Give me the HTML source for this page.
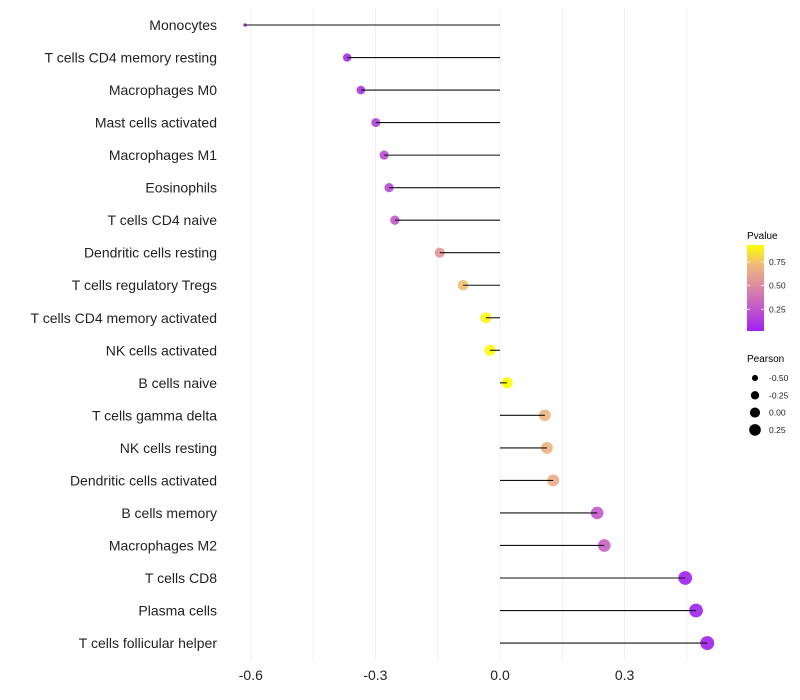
<!DOCTYPE html>
<html><head><meta charset="utf-8"><style>
body{margin:0;background:#fff;font-family:"Liberation Sans",sans-serif}
</style></head><body>
<svg id="chart" width="800" height="700" xmlns="http://www.w3.org/2000/svg" style="display:block">
<defs>
<linearGradient id="pgrad" x1="0" y1="1" x2="0" y2="0">
<stop offset="0" stop-color="#A020F0"/>
<stop offset="0.27" stop-color="#C25ACB"/>
<stop offset="0.52" stop-color="#DC8AA2"/>
<stop offset="0.77" stop-color="#EFB97B"/>
<stop offset="1" stop-color="#FFFF00"/>
</linearGradient>
</defs>
<g id="grid"></g><g id="marks"></g><g id="axes"></g>
<g id="legend">
<text x="747" y="239" font-size="10" fill="#000">Pvalue</text>
<rect x="747" y="245" width="17" height="86" fill="url(#pgrad)"/>
<g id="cbticks"></g>
<text x="747" y="362" font-size="10" fill="#000">Pearson</text>
<g id="sizeleg"></g>
</g>
</svg>
<script>
const categories=["Monocytes","T cells CD4 memory resting","Macrophages M0","Mast cells activated","Macrophages M1","Eosinophils","T cells CD4 naive","Dendritic cells resting","T cells regulatory  Tregs ","T cells CD4 memory activated","NK cells activated","B cells naive","T cells gamma delta","NK cells resting","Dendritic cells activated","B cells memory","Macrophages M2","T cells CD8","Plasma cells","T cells follicular helper"];
const pearson=[-0.614,-0.368,-0.335,-0.299,-0.279,-0.267,-0.253,-0.145,-0.089,-0.034,-0.024,0.017,0.108,0.113,0.128,0.234,0.251,0.446,0.472,0.499];
const pvalue=[0.02,0.06,0.1,0.15,0.2,0.2,0.25,0.55,0.74,0.9,0.92,0.93,0.7,0.69,0.66,0.26,0.3,0.02,0.03,0.02];
const xTicks=[-0.6,-0.3,0.0,0.3];
const xTickLabels=["-0.6","-0.3","0.0","0.3"];
const cbTicks=[0.25,0.5,0.75];
const sizeLegendValues=[-0.5,-0.25,0,0.25];
const NS="http://www.w3.org/2000/svg";
const X=v=>500+v*415.3;
const Y=i=>25+i*32.53;
const R=v=>Math.max(1.7,6.01*Math.sqrt(Math.max(0,v+0.856))-(v<-0.5?1.2:0));
const RL=v=>6.01*Math.sqrt(v+0.856)-0.5;
const CBY=p=>331-(p-0.02)/0.91*86;
const stops=[[0,[160,32,240]],[0.27,[194,90,203]],[0.52,[220,138,162]],[0.77,[239,185,123]],[1,[255,255,0]]];
function col(p){let t=(p-0.02)/0.91;t=Math.max(0,Math.min(1,t));for(let k=1;k<stops.length;k++){if(t<=stops[k][0]){const a=stops[k-1],b=stops[k],f=(t-a[0])/(b[0]-a[0]);const c=a[1].map((v,j)=>Math.round(v+(b[1][j]-v)*f));return`rgb(${c.join(',')})`;}}return"rgb(255,255,0)";}
function mk(tag,attrs,parent){const e=document.createElementNS(NS,tag);for(const k in attrs)e.setAttribute(k,attrs[k]);document.getElementById(parent).appendChild(e);return e;}
[-0.6,-0.45,-0.3,-0.15,0,0.15,0.3,0.45].forEach(v=>{const l=mk('line',{x1:X(v),x2:X(v),y1:8,y2:660,stroke:'#ececec','stroke-width':0.8},'grid');

});
xTicks.forEach((v,i)=>{const t=mk('text',{x:X(v),y:680,'font-size':14,'text-anchor':'middle',fill:'#222'},'axes');t.textContent=xTickLabels[i];

});
categories.forEach((c,i)=>{const t=mk('text',{x:217,y:Y(i)+5,'font-size':14,'text-anchor':'end',fill:'#222'},'axes');t.textContent=c;


const pt=mk('circle',{cx:X(pearson[i]),cy:Y(i),r:R(pearson[i]),fill:col(pvalue[i]),'fill-opacity':0.9},'marks');


const sg=mk('line',{x1:X(0),x2:X(pearson[i]),y1:Y(i),y2:Y(i),stroke:'#111','stroke-width':1.1},'marks');

});
cbTicks.forEach(p=>{const y=CBY(p);
const a=mk('line',{x1:747,x2:750,y1:y,y2:y,stroke:'#fff','stroke-width':0.8},'cbticks');
const b=mk('line',{x1:761,x2:764,y1:y,y2:y,stroke:'#fff','stroke-width':0.8},'cbticks');
const t=mk('text',{x:769,y:y+3,'font-size':8.5,fill:'#222'},'cbticks');t.textContent=p.toFixed(2);

});
sizeLegendValues.forEach((v,i)=>{const y=378+i*17.3;
const c=mk('circle',{cx:755,cy:y,r:RL(v),fill:'#000'},'sizeleg');


const t=mk('text',{x:769,y:y+3,'font-size':8.5,fill:'#222'},'sizeleg');t.textContent=v.toFixed(2);

});
</script>
</body></html>
